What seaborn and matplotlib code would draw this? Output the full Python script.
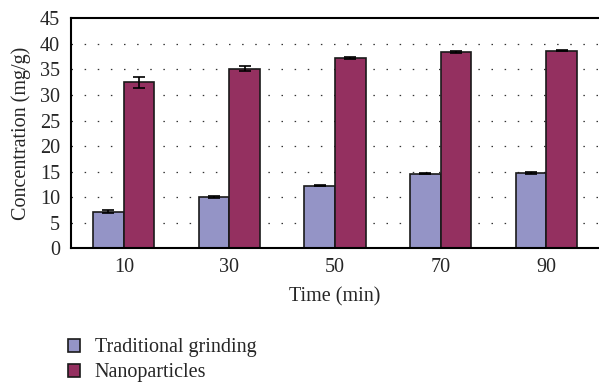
import matplotlib
matplotlib.use("Agg")
import matplotlib.pyplot as plt
import matplotlib.patches as mpatches
from matplotlib.ticker import FixedLocator
import pandas as pd
import seaborn as sns

# data
times = ["10", "30", "50", "70", "90"]
traditional = [7.15, 10.05, 12.25, 14.6, 14.75]
traditional_err = [0.25, 0.15, 0.15, 0.1, 0.15]
nano = [32.5, 35.15, 37.2, 38.45, 38.7]
nano_err = [1.1, 0.5, 0.15, 0.15, 0.15]
series = ["Traditional grinding", "Nanoparticles"]
colors = ["#9494c6", "#943060"]

sns.set_theme(style="white")
plt.rcParams["font.family"] = ["Liberation Serif", "DejaVu Serif"]

df = pd.DataFrame({
    "Time": times * 2,
    "Concentration": traditional + nano,
    "err": traditional_err + nano_err,
    "Series": [series[0]] * len(times) + [series[1]] * len(times),
})

fig = plt.figure(figsize=(5.99, 3.82), dpi=100)
ax = fig.add_axes([0.1185, 0.35, 0.8815, 0.602])

sns.barplot(ax=ax, data=df, x="Time", y="Concentration", hue="Series",
            palette=colors, saturation=1, errorbar=None, width=0.58,
            edgecolor="#1a1a1a", linewidth=1.2, legend=False, zorder=2)

# error bars placed at the bar centres seaborn produced
bars = [p for p in ax.patches if isinstance(p, mpatches.Rectangle)]
for p, e in zip(bars, df["err"]):
    ax.errorbar(p.get_x() + p.get_width() / 2, p.get_height(), yerr=e,
                fmt="none", ecolor="black", elinewidth=1.2, capsize=4,
                capthick=1.2, zorder=3)

ax.set_xlim(-0.5, len(times) - 0.5)
ax.set_ylim(0, 45)
ax.set_yticks(range(0, 46, 5))
ax.yaxis.grid(True, linestyle=(0, (1.2, 9.3)), color="#333333", linewidth=0.9)
ax.set_axisbelow(True)
# no grid at 0 and 45 (the axis lines sit there)
for gl, t in zip(ax.get_ygridlines(), range(0, 46, 5)):
    if t in (0, 45):
        gl.set_visible(False)

ax.xaxis.set_minor_locator(FixedLocator([0.5, 1.5, 2.5, 3.5]))
ax.tick_params(axis="x", which="major", length=0, labelsize=14.5, pad=7)
ax.tick_params(axis="x", which="minor", direction="in", length=4, width=1.2,
               color="black")
ax.tick_params(axis="y", length=0, labelsize=14.5, pad=8)

for s in ["top", "left", "bottom"]:
    ax.spines[s].set_color("black")
    ax.spines[s].set_linewidth(1.5)
ax.spines["right"].set_visible(False)

ax.set_xlabel("Time (min)", fontsize=14.5, labelpad=7)
ax.set_ylabel("Concentration (mg/g)", fontsize=14.5, labelpad=6)

handles = [mpatches.Patch(facecolor=c, edgecolor="#1a1a1a", linewidth=1.2)
           for c in colors]
fig.legend(handles, series, loc="upper left", bbox_to_anchor=(0.113, 0.114),
           frameon=False, fontsize=14.5, handlelength=0.6, handleheight=0.6,
           handletextpad=0.75, labelspacing=0.3, borderaxespad=0,
           borderpad=0)

fig.savefig("out.png", dpi=100)
